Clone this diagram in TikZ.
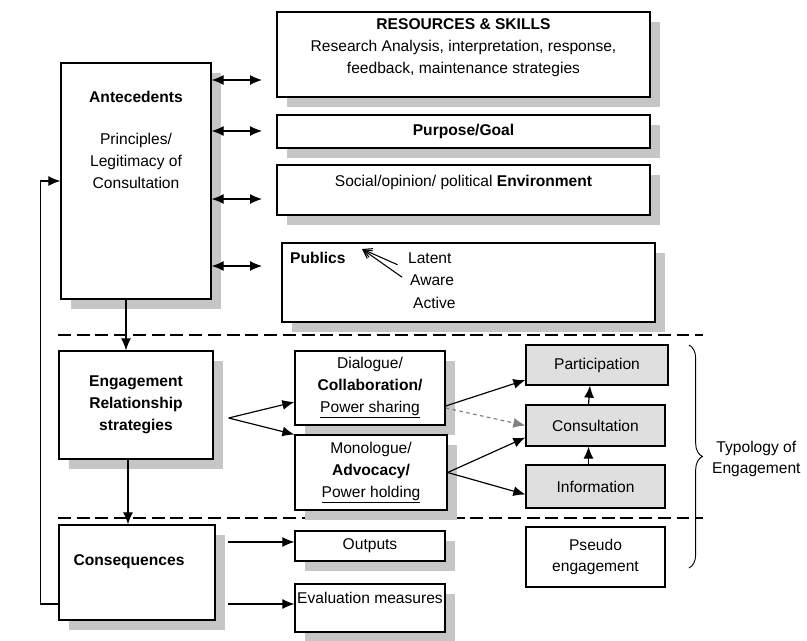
\documentclass[tikz,border=0pt]{standalone}
\usepackage{fontspec}
\setmainfont{Liberation Sans}
\usetikzlibrary{positioning,calc,shadows,arrows.meta,decorations.pathreplacing}
\newcommand\pxu{0.03cm}
\tikzstyle{mybox} = [draw, line width=1.1pt, fill=white, align=center, inner sep=2pt, general shadow={fill=gray!45, shadow xshift=0.3cm, shadow yshift=-0.3cm}]
\tikzstyle{greybox} = [draw, line width=1.1pt, fill=gray!25, align=center]
\tikzstyle{plainbox} = [draw, line width=1.1pt, fill=white, align=center]
\tikzstyle{myarrow} = [-{Latex[length=3.6mm,width=3mm]}, line width=1pt]
\tikzstyle{myboth} = [{Latex[length=3.6mm,width=3mm]}-{Latex[length=3.6mm,width=3mm]}, line width=1pt]
\tikzstyle{mysep} = [line width=2pt, dash pattern=on 11pt off 5pt]

\begin{document}
\begin{tikzpicture}[x=0.03cm, y=-0.03cm, font=\fontsize{13.3}{18.7}\selectfont]
        \useasboundingbox (0,0) rectangle (807,640);

        % Antecedents and context
        \node[mybox, minimum width=150*\pxu, minimum height=236*\pxu] (ante) at (136,181) {};
        \node (ante_t) at (136,97) {\textbf{Antecedents}};
        \node[align=center] (ante_p) at (136,161) {Principles/\\Legitimacy of\\Consultation};
        \node[mybox, minimum width=373*\pxu, minimum height=85*\pxu] (res) at (463.5,54.5) {};
        \node[align=center] (res_t) at (463.5,48) {\textbf{RESOURCES \& SKILLS}\\Research Analysis, interpretation, response,\\feedback, maintenance strategies};
        \node[mybox, minimum width=373*\pxu, minimum height=33*\pxu] (goal) at (463.5,131.5) {\textbf{Purpose/Goal}};
        \node[mybox, minimum width=373*\pxu, minimum height=50*\pxu] (env) at (463.5,190) {};
        \node (env_t) at (463.5,182) {Social/opinion/ political \textbf{Environment}};
        \node[mybox, minimum width=373*\pxu, minimum height=79*\pxu] (pub) at (468.5,282.5) {};
        \node[anchor=west] (pub_t) at (286,258) {\textbf{Publics}};
        \node[anchor=west] (lat) at (404,258) {Latent};
        \node[anchor=west] (awa) at (406,280) {Aware};
        \node[anchor=west] (act) at (409,303) {Active};
        \coordinate (pub_tip) at (362,249);
        \draw[-{Straight Barb[length=2.6mm,width=2.8mm]}, line width=0.9pt, shorten <=6pt] (lat.south west) -- (pub_tip);
        \draw[-{Straight Barb[length=2.6mm,width=2.8mm]}, line width=0.9pt, shorten <=4pt] (awa.west) -- (pub_tip);

        % Links from antecedents
        \coordinate (r_1) at (262,80);
        \coordinate (r_2) at (262,131);
        \coordinate (r_3) at (262,199);
        \coordinate (r_4) at (262,266);
        \draw[myboth] (ante.east |- r_1) -- (r_1);
        \draw[myboth] (ante.east |- r_2) -- (r_2);
        \draw[myboth] (ante.east |- r_3) -- (r_3);
        \draw[myboth] (ante.east |- r_4) -- (r_4);

        % Separators
        \coordinate (sep_1l) at (58,335);
        \coordinate (sep_1r) at (703,335);
        \coordinate (sep_2l) at (58,518);
        \coordinate (sep_2r) at (703,518);
        \draw[mysep] (sep_1l) -- (sep_1r);
        \draw[mysep] (sep_2l) -- (sep_2r);

        % Engagement
        \node[mybox, minimum width=154*\pxu, minimum height=108*\pxu] (eng) at (136,405) {\textbf{Engagement}\\\textbf{Relationship}\\\textbf{strategies}};
        \node[mybox, minimum width=150*\pxu, minimum height=74*\pxu] (dia) at (370,388) {Dialogue/\\\textbf{Collaboration/}\\\underline{Power sharing}};
        \node[mybox, minimum width=152*\pxu, minimum height=75*\pxu] (mono) at (371,472.5) {Monologue/\\\textbf{Advocacy/}\\\underline{Power holding}};
        \node[greybox, minimum width=142*\pxu, minimum height=40*\pxu] (part) at (597,365) {Participation};
        \node[greybox, minimum width=139*\pxu, minimum height=41*\pxu] (cons) at (595.5,425.5) {Consultation};
        \node[greybox, minimum width=139*\pxu, minimum height=43*\pxu] (info) at (595.5,486.5) {Information};
        \node[plainbox, minimum width=139*\pxu, minimum height=60*\pxu] (pseudo) at (595.5,557) {Pseudo\\engagement};

        \draw[myarrow] ($(ante.south)+(-10,0)$) -- ($(eng.north)+(-10,0)$);
        \draw[myarrow] ($(eng.east)+(15,13)$) -- ($(dia.west)+(0,14)$);
        \draw[myarrow] ($(eng.east)+(15,13)$) -- ($(mono.west)+(0,-38)$);
        \draw[myarrow] ($(dia.east)+(0,18)$) -- ($(part.west)+(0,15)$);
        \draw[myarrow, dashed, gray] ($(dia.east)+(0,20)$) -- (cons.west);
        \draw[myarrow] (mono.east) -- ($(cons.west)+(0,12)$);
        \draw[myarrow] (mono.east) -- ($(info.west)+(0,8)$);
        \draw[myarrow] ($(info.north)+(-7,0)$) -- ($(cons.south)+(-7,0)$);
        \draw[myarrow] ($(cons.north)+(-7,0)$) -- ($(part.south)+(-7,0)$);

        % Typology brace
        \coordinate (br_t) at (689,345);
        \coordinate (br_b) at (689,568);
        \draw[decorate, decoration={brace, amplitude=0.4cm}, line width=0.8pt] (br_t) -- (br_b);
        \node[align=center, anchor=west] (typ) at (708,459) {Typology of\\Engagement};

        % Consequences
        \node[mybox, minimum width=156*\pxu, minimum height=95*\pxu] (csq) at (137,572.5) {};
        \node (csq_t) at (129,562) {\textbf{Consequences}};
        \node[mybox, minimum width=150*\pxu, minimum height=30*\pxu] (out) at (370,546) {Outputs};
        \node[mybox, minimum width=150*\pxu, minimum height=48*\pxu] (eval) at (370,608) {};
        \node (eval_t) at (370,598) {Evaluation measures};

        \draw[myarrow] ($(eng.south)+(-8,0)$) -- ($(csq.north)+(-9,0)$);
        \draw[myarrow] ($(csq.east |- out.west)+(12,-4)$) -- ($(out.west)+(0,-4)$);
        \draw[myarrow] ($(csq.east |- eval.west)+(12,-4)$) -- ($(eval.west)+(0,-4)$);
        \draw[myarrow] ($(csq.west |- eval.west)+(0,-4)$) -- ++(-18,0) |- (ante.west);
     \end{tikzpicture}
\end{document}
